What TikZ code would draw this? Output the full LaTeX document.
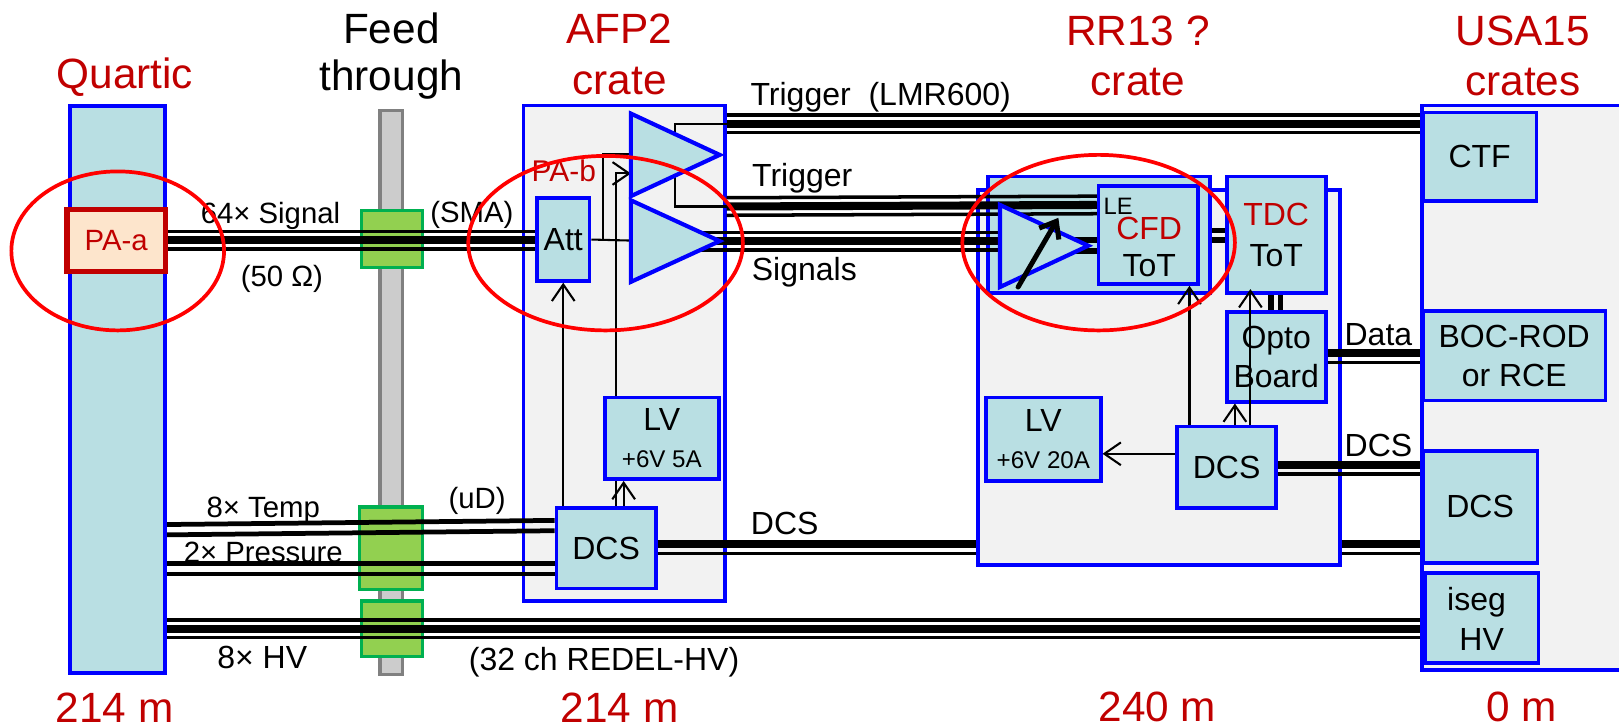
\documentclass[tikz,border=0pt]{standalone}
\usepackage{fontspec}
\setmainfont{Liberation Sans}
\usepackage{xcolor}
\usetikzlibrary{arrows.meta}
\definecolor{boxteal}{HTML}{B9DFE3}
\definecolor{cratebg}{HTML}{F2F2F2}
\definecolor{darkred}{HTML}{C00000}
\definecolor{feedgreen}{HTML}{92D050}
\definecolor{feededge}{HTML}{00B050}
\definecolor{paorange}{HTML}{FDE5CC}
\tikzset{
    blue-box/.style = {draw=blue, fill=boxteal, line width=1.8pt, rectangle, inner sep=0pt, align=center, font=\fontsize{15.5}{19}\selectfont},
    crate-box/.style = {draw=blue, fill=cratebg, line width=1.7pt, rectangle, inner sep=0pt},
    feed-box/.style = {draw=feededge, fill=feedgreen, line width=1.6pt, rectangle, inner sep=0pt},
    amp-shape/.style = {draw=blue, fill=boxteal, line width=2pt, line join=miter},
    red-ring/.style = {draw=red, line width=1.8pt},
    red-title/.style = {text=darkred, font=\fontsize{20.5}{24}\selectfont, inner sep=0pt},
    black-title/.style = {text=black, font=\fontsize{20.5}{24}\selectfont, inner sep=0pt},
    wire-label/.style = {text=black, font=\fontsize{15.5}{19}\selectfont, inner sep=0pt},
    small-label/.style = {text=black, font=\fontsize{14.2}{17}\selectfont, inner sep=0pt},
    thin-bus/.style = {line width=1.7pt},
    slow-bus/.style = {line width=2.3pt},
    thick-bus/.style = {line width=3.9pt},
    thin-wire/.style = {line width=1pt},
    arrow-wire/.style = {line width=1pt, -{Straight Barb[length=8pt,width=11pt]}},
}
\newcommand{\triplebus}[4]{
    \draw[thin-bus] (#1 |- 0,#3-8.5) -- (#2 |- 0,#4-8.5);
    \draw[thick-bus] (#1 |- 0,#3) -- (#2 |- 0,#4);
    \draw[thin-bus] (#1 |- 0,#3+8.5) -- (#2 |- 0,#4+8.5);
}
\newcommand{\dcsbus}[3]{
    \draw[thick-bus] (#1 |- 0,#3) -- (#2 |- 0,#3);
    \draw[thin-bus] (#1 |- 0,#3+9) -- (#2 |- 0,#3+9);
}
\begin{document}
\begin{tikzpicture}[x=0.5pt, y=-0.5pt]
\useasboundingbox (0,0) rectangle (1568,705);

% titles
\node[red-title] (title-quartic) at (121,75) {Quartic};
\node[black-title] (title-feed) at (379,27) {Feed};
\node[black-title] (title-through) at (379,77) {through};
\node[red-title] (title-afp) at (600,28) {AFP2};
\node[red-title] (title-afp-crate) at (600,78) {crate};
\node[red-title] (title-rr) at (1102,30) {RR13 ?};
\node[red-title] (title-rr-crate) at (1102,79) {crate};
\node[red-title] (title-usa) at (1475,30) {USA15};
\node[red-title] (title-usa-crate) at (1475,79) {crates};
\node[red-title] (dist-quartic) at (111,685) {214 m};
\node[red-title] (dist-afp) at (600,685) {214 m};
\node[red-title] (dist-rr) at (1121,685) {240 m};
\node[red-title] (dist-usa) at (1474,685) {0 m};

% crates and feed through
\node[blue-box, minimum width=46pt, minimum height=274.5pt] (quartic) at (114,377.5) {};
\node[draw=gray, fill=black!20, line width=1.5pt, minimum width=11pt, minimum height=273pt, inner sep=0pt] (feed) at (379,380) {};
\node[feed-box, minimum width=29.5pt, minimum height=27.5pt] (green-sig) at (379.5,231.5) {};
\node[feed-box, minimum width=30.5pt, minimum height=40pt] (green-dcs) at (378.5,531) {};
\node[feed-box, minimum width=29.5pt, minimum height=27pt] (green-hv) at (379.5,609) {};
\node[crate-box, minimum width=97.5pt, minimum height=240pt] (afp2) at (604.5,342) {};
\node[crate-box, minimum width=99pt, minimum height=273.5pt] (usa15) at (1476,375.5) {};

% boxes in AFP2
\node[blue-box, minimum width=25.5pt, minimum height=40pt] (att) at (545.5,232) {Att};
\node[blue-box, minimum width=48pt, minimum height=39pt] (dcs-afp) at (587,531) {DCS};
\node[draw=darkred, fill=paorange, line width=2.6pt, minimum width=47.5pt, minimum height=30pt, inner sep=0pt, text=darkred, font=\fontsize{14.2}{17}\selectfont] (pa-a) at (112.5,233) {PA-a};

% long buses
\dcsbus{dcs-afp.east}{usa15.west}{527}
\triplebus{quartic.east}{usa15.west}{609}{609}
\triplebus{pa-a.east}{att.west}{232.5}{232.5}
\draw[slow-bus] (quartic.east |- 0,508) -- (dcs-afp.west |- 0,504);
\draw[slow-bus] (quartic.east |- 0,518) -- (dcs-afp.west |- 0,514);
\draw[slow-bus] (quartic.east |- 0,546) -- (dcs-afp.west |- 0,546);
\draw[slow-bus] (quartic.east |- 0,556) -- (dcs-afp.west |- 0,556);

% wires in AFP2
\draw[thin-wire] (afp2.east |- 0,120) -- (654,120) -- (654,200) -- (afp2.east |- 0,200);
\draw[arrow-wire] (dcs-afp.north -| att.south) -- (att.south);
\coordinate (amp-low-in) at (611,233);
\coordinate (amp-top-in) at (611,149);
\coordinate (amp-top-bias) at (611,168);
\draw[thin-wire] (att.east) -- (amp-low-in);
\draw[thin-wire] (584,233) -- (584,149) -- (amp-top-in);
\draw[arrow-wire] (dcs-afp.north -| 597,0) -- (597,168) -- (amp-top-bias);
\node[blue-box, minimum width=55pt, minimum height=39.5pt] (lv-afp) at (641,424.5) {LV\\[-1pt]{\fontsize{11.7}{13}\selectfont +6V 5A}};
\draw[arrow-wire] (dcs-afp.north -| 604,0) -- (lv-afp.south -| 604,0);

% RR13 crate
\node[crate-box, minimum width=175.5pt, minimum height=181.5pt] (rr13) at (1122.5,365.5) {};
\dcsbus{rr13.east}{usa15.west}{527}
\node[blue-box, minimum width=107.5pt, minimum height=56.5pt] (rr13-inner) at (1064.5,227.5) {};
\node[blue-box, minimum width=48pt, minimum height=47.5pt] (cfd) at (1112,227.5) {};
\node[blue-box, minimum width=48pt, minimum height=56.5pt] (tdc) at (1236,227.5) {\textcolor{darkred}{TDC}\\[1pt]ToT};
\node[blue-box, minimum width=48pt, minimum height=43.5pt] (opto) at (1236,345.5) {Opto\\Board};
\node[blue-box, minimum width=55.5pt, minimum height=40.5pt] (lv-rr) at (1010.5,425.5) {LV\\[-1pt]{\fontsize{11.7}{13}\selectfont +6V 20A}};
\node[blue-box, minimum width=48pt, minimum height=39.5pt] (dcs-rr) at (1188,452.5) {DCS};

% boxes in USA15
\node[blue-box, minimum width=55pt, minimum height=43pt] (ctf) at (1433,152) {CTF};
\node[blue-box, minimum width=88.5pt, minimum height=43.5pt] (boc) at (1466.5,344.5) {BOC-ROD\\or RCE};
\node[blue-box, minimum width=55.5pt, minimum height=54pt] (dcs-usa) at (1433.5,491) {DCS};
\node[blue-box, minimum width=55pt, minimum height=43.5pt] (iseg) at (1435,598.5) {};
\node[wire-label] (iseg-a) at (1430,583) {iseg};
\node[wire-label] (iseg-b) at (1435,619) {HV};

% buses to the right
\triplebus{afp2.east}{usa15.west}{120}{120}
\triplebus{afp2.east}{cfd.west}{200}{198.5}
\coordinate (sig-start) at (675,233.5);
\coordinate (rr-amp-in) at (968,233.5);
\triplebus{sig-start}{rr-amp-in}{233.5}{233.5}
\dcsbus{opto.east}{usa15.west}{342}
\dcsbus{dcs-rr.east}{usa15.west}{450}

% amplifiers
\draw[amp-shape] (611,110) -- (697,150) -- (611,190) -- cycle;
\draw[amp-shape] (611,194) -- (697,233.5) -- (611,273) -- cycle;
\coordinate (rr-amp-tip) at (1054,238);
\draw[line width=2.6pt] (1040,232.5) -- (cfd.west |- 0,232.5);
\draw[line width=2.6pt] (1040,243) -- (cfd.west |- 0,243);
\draw[amp-shape] (968.5,198.5) -- (rr-amp-tip) -- (968.5,278) -- cycle;
\draw[line width=2.4pt, line cap=round, -{Straight Barb[length=7pt,width=11pt]}] (986,278) -- (1025,211);

% links
\draw[line width=2.6pt] (rr13-inner.east |- 0,223) -- (tdc.west |- 0,223);
\draw[line width=2.6pt] (rr13-inner.east |- 0,232.5) -- (tdc.west |- 0,232.5);
\draw[line width=2.6pt] (1231,0 |- tdc.south) -- (1231,0 |- opto.north);
\draw[line width=2.6pt] (1240,0 |- tdc.south) -- (1240,0 |- opto.north);
\draw[arrow-wire] (dcs-rr.west) ++(0,-13) -- (lv-rr.east |- 0,439.5);
\draw[arrow-wire] (1152,0 |- dcs-rr.north) -- (1152,0 |- cfd.south);
\draw[arrow-wire] (1196,0 |- dcs-rr.north) -- (1196,0 |- opto.south);
\draw[arrow-wire] (1211,0 |- dcs-rr.north) -- (1211,280);

% wire labels
\node[small-label] (lbl-signal) at (262,209) {64× Signal};
\node[small-label] (lbl-sma) at (457,208) {(SMA)};
\node[small-label] (lbl-ohm) at (273,270) {(50 Ω)};
\node[wire-label] (lbl-lmr) at (853,94) {Trigger\ \ (LMR600)};
\node[wire-label] (lbl-trigger) at (777,173) {Trigger};
\node[wire-label] (lbl-signals) at (779,264) {Signals};
\node[wire-label] (lbl-data) at (1335,324) {Data};
\node[wire-label] (lbl-dcs-a) at (1335,431) {DCS};
\node[wire-label] (lbl-dcs-b) at (760,507) {DCS};
\node[small-label] (lbl-ud) at (462,485) {(uD)};
\node[small-label] (lbl-temp) at (255,494) {8× Temp};
\node[small-label] (lbl-pressure) at (255,535) {2× Pressure};
\node[wire-label] (lbl-hv) at (254,637) {8× HV};
\node[wire-label] (lbl-redel) at (585,641) {(32 ch REDEL-HV)};
\node[wire-label, text=darkred, font=\fontsize{14.5}{17}\selectfont] (lbl-pab) at (546,165) {PA-b};
\node[wire-label, font=\fontsize{11.5}{14}\selectfont] (lbl-le) at (1083,200) {LE};
\node[wire-label, text=darkred] (lbl-cfd) at (1113,221) {CFD};
\node[wire-label] (lbl-tot) at (1113,257) {ToT};

% red rings
\draw[red-ring] (114,243) ellipse [x radius=103, y radius=77];
\draw[red-ring] (586.5,235.5) ellipse [x radius=133, y radius=84.5];
\draw[red-ring] (1064,235) ellipse [x radius=132, y radius=85];
\end{tikzpicture}
\end{document}
